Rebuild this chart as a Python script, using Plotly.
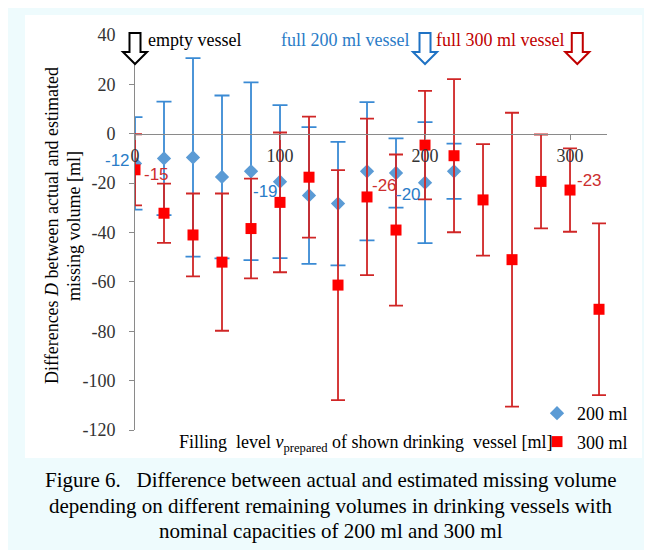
import plotly.graph_objects as go

# ---- data ----
x_200 = [0, 20, 40, 60, 80, 100, 120, 140, 160, 180, 200, 220]
mean_200 = [-12, -10, -9.6, -17.5, -15.2, -19.4, -25, -28.3, -15.2, -15.9, -19.8, -15.2]
err_200 = [18.7, 23, 40.2, 33, 36, 31, 27.7, 25, 28, 14, 24.5, 11.2]

x_300 = [0, 20, 40, 60, 80, 100, 120, 140, 160, 180, 200, 220, 240, 260, 280, 300, 320]
mean_300 = [-14.6, -32.2, -41, -52, -38.4, -27.8, -17.6, -61.3, -25.6, -39, -4.6, -8.9,
            -26.8, -51, -19.3, -22.8, -71.1]
err_300 = [14.4, 12, 16.8, 27.8, 20.2, 28.3, 24.5, 46.6, 31.7, 30.6, 22, 31,
           22.6, 59.5, 19, 16.9, 34.8]

y_tick_vals = [40, 20, 0, -20, -40, -60, -80, -100, -120]
y_tick_text = ["40", "20", "0", "-20", "-40", "-60", "-80", "-100", "-120"]
x_tick_vals = [0, 100, 200, 300]
x_tick_text = ["0", "100", "200", "300"]

arrow_x = [0, 200, 305]
arrow_colors = ["#000000", "#1f72c4", "#c00000"]

caption_lines = [
    "Figure 6.\u00a0\u00a0 Difference between actual and estimated missing volume",
    "depending on different remaining volumes in drinking vessels with",
    "nominal capacities of 200 ml and 300 ml",
]

SERIF = "Liberation Serif, Times New Roman, serif"
SANS = "Liberation Sans, Arial, sans-serif"
BLUE_TXT = "#2a7cc7"
RED_TXT = "#c00000"

X_MAX = 325.5
# figure geometry (px); page body has an 8px margin
OFF = 8
W, H = 644, 542
L, T = 127, 27
PW, PH = 472, 395
R, B = W - L - PW, H - T - PH


def px(xs):
    """screen x (px) -> paper x"""
    return (xs - OFF - L) / PW


def py(ys):
    """screen y (px) -> paper y"""
    return (T + PH - (ys - OFF)) / PH


fig = go.Figure()

fig.add_trace(go.Scatter(
    x=x_200, y=mean_200, mode="markers", name="200 ml", legendgroup="a",
    marker=dict(symbol="diamond", size=11, color="#5b9bd5"),
    error_y=dict(type="data", array=err_200, visible=True, color="#3a8ad4",
                 thickness=1.8, width=7.5),
))
fig.add_trace(go.Scatter(
    x=x_300, y=mean_300, mode="markers", name="300 ml", legendgroup="b",
    marker=dict(symbol="square", size=11, color="#ff0000"),
    error_y=dict(type="data", array=err_300, visible=True, color="#d02626",
                 thickness=1.8, width=7),
))

ann = []
# data labels
lab_200 = {0: (-3, 3, "right"), 5: (0, -10, "right"), 10: (-2, -12, "right")}
lab_300 = {0: (7, -5, "left"), 8: (3, 11, "left"), 15: (5, 10, "left")}
for i, (dx, dy, anc) in lab_200.items():
    ann.append(dict(x=x_200[i], y=mean_200[i], xref="x", yref="y",
                    text=f"{round(mean_200[i]):d}", showarrow=False,
                    xanchor=anc, yanchor="middle", xshift=dx, yshift=dy,
                    font=dict(family=SANS, size=17, color=BLUE_TXT)))
for i, (dx, dy, anc) in lab_300.items():
    ann.append(dict(x=x_300[i], y=mean_300[i], xref="x", yref="y",
                    text=f"{round(mean_300[i]):d}", showarrow=False,
                    xanchor=anc, yanchor="middle", xshift=dx, yshift=dy,
                    font=dict(family=SANS, size=17, color="#cc2e2e")))

# top texts
ann.append(dict(x=px(146), y=py(40), xref="paper", yref="paper", text="empty vessel",
                showarrow=False, xanchor="left", yanchor="middle",
                font=dict(family=SERIF, size=18, color="#000000")))
ann.append(dict(x=px(412), y=py(40), xref="paper", yref="paper", text="full 200 ml vessel",
                showarrow=False, xanchor="right", yanchor="middle",
                font=dict(family=SERIF, size=18, color=BLUE_TXT)))
ann.append(dict(x=px(434), y=py(40), xref="paper", yref="paper", text="full 300 ml vessel",
                showarrow=False, xanchor="left", yanchor="middle",
                font=dict(family=SERIF, size=18, color=RED_TXT)))

# axis titles
ann.append(dict(x=px(52), y=py(226), xref="paper", yref="paper",
                text="Differences <i>D</i> between actual and estimated",
                showarrow=False, textangle=-90, xanchor="center", yanchor="middle",
                font=dict(family=SERIF, size=18, color="#000000")))
ann.append(dict(x=px(74), y=py(226), xref="paper", yref="paper",
                text="missing volume [ml]",
                showarrow=False, textangle=-90, xanchor="center", yanchor="middle",
                font=dict(family=SERIF, size=18, color="#000000")))
ann.append(dict(x=px(366), y=py(443), xref="paper", yref="paper",
                text="Filling\u00a0 level <i>v</i><sub>prepared</sub> of shown drinking\u00a0 vessel [ml]",
                showarrow=False, xanchor="center", yanchor="middle",
                font=dict(family=SERIF, size=18, color="#000000")))

# caption (three lines)
for line, ys in zip(caption_lines, [480, 506, 531]):
    ann.append(dict(x=px(331), y=py(ys), xref="paper", yref="paper", text=line,
                    showarrow=False, xanchor="center", yanchor="middle",
                    font=dict(family=SERIF, size=21, color="#000000")))

shapes = [
    dict(type="rect", xref="paper", yref="paper", x0=px(0), x1=px(700), y0=py(600), y1=py(0),
         fillcolor="#eefbfd", line=dict(width=0), layer="below"),
    dict(type="rect", xref="paper", yref="paper", x0=px(25), x1=px(642), y0=py(458), y1=py(15),
         fillcolor="#ffffff", line=dict(width=0), layer="below"),
]
arrow_path = "M0,0 L-12,12 L-5.5,12 L-5.5,31 L5.5,31 L5.5,12 L12,12 Z"
for ax_, col in zip(arrow_x, arrow_colors):
    shapes.append(dict(type="path", xref="paper", yref="paper", xsizemode="pixel",
                       ysizemode="pixel", xanchor=ax_ / X_MAX, yanchor=py(64), path=arrow_path,
                       fillcolor="#ffffff", line=dict(color=col, width=2), layer="above"))

fig.update_layout(
    width=W, height=H, autosize=False,
    margin=dict(l=L, r=R, t=T, b=B, pad=0),
    paper_bgcolor="#ffffff", plot_bgcolor="rgba(0,0,0,0)",
    showlegend=True,
    legend=dict(x=px(633), y=py(395), xanchor="right", yanchor="top",
                bgcolor="rgba(0,0,0,0)", font=dict(family=SERIF, size=18, color="#000000"),
                traceorder="grouped", tracegroupgap=2, itemwidth=30),
    annotations=ann, shapes=shapes,
    xaxis=dict(range=[0, X_MAX], anchor="free", position=0.75, showline=True,
               linecolor="#8a8a8a", linewidth=1, ticks="outside", ticklen=5,
               tickcolor="#8a8a8a", tickvals=x_tick_vals, ticktext=x_tick_text,
               showgrid=False, zeroline=False, ticklabelstandoff=1,
               tickfont=dict(family=SERIF, size=18, color="#333333")),
    yaxis=dict(range=[-120, 40], showline=True, linecolor="#8a8a8a", linewidth=1,
               ticks="outside", ticklen=5, tickcolor="#8a8a8a",
               tickvals=y_tick_vals, ticktext=y_tick_text, showgrid=False, zeroline=False,
               ticklabelstandoff=10,
               tickfont=dict(family=SERIF, size=18, color="#333333")),
)

fig.write_html("out.html")
